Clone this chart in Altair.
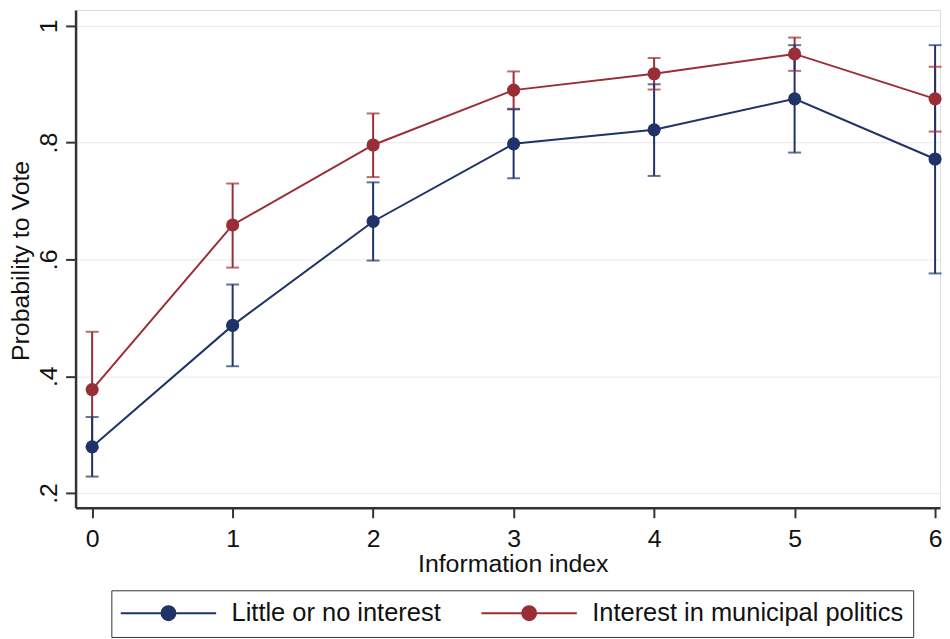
import altair as alt
import pandas as pd

info_index = [0, 1, 2, 3, 4, 5, 6]
series_names = ["Little or no interest", "Interest in municipal politics"]

little_mean = [0.279, 0.487, 0.665, 0.798, 0.822, 0.875, 0.772]
little_lo = [0.228, 0.417, 0.598, 0.739, 0.743, 0.783, 0.576]
little_hi = [0.330, 0.557, 0.732, 0.857, 0.900, 0.967, 0.967]

interest_mean = [0.377, 0.659, 0.796, 0.890, 0.918, 0.952, 0.875]
interest_lo = [0.278, 0.586, 0.741, 0.858, 0.891, 0.923, 0.819]
interest_hi = [0.476, 0.730, 0.850, 0.922, 0.945, 0.980, 0.930]

y_ticks = [0.2, 0.4, 0.6, 0.8, 1.0]
x_ticks = [0, 1, 2, 3, 4, 5, 6]

colors = ["#1f3368", "#9a2e36"]

rows = []
for i, x in enumerate(info_index):
    rows.append({"x": x, "series": series_names[1], "mean": interest_mean[i],
                 "lo": interest_lo[i], "hi": interest_hi[i], "ord": 0})
for i, x in enumerate(info_index):
    rows.append({"x": x, "series": series_names[0], "mean": little_mean[i],
                 "lo": little_lo[i], "hi": little_hi[i], "ord": 1})
df = pd.DataFrame(rows)

legend_path = ("M-6,0L6,0M0.875,0A0.875,0.875,0,1,1,-0.875,0"
               "A0.875,0.875,0,1,1,0.875,0Z")

color = alt.Color(
    "series:N",
    scale=alt.Scale(domain=series_names, range=colors),
    legend=alt.Legend(
        orient="none", legendX=36, legendY=584, direction="horizontal",
        title=None, symbolType=legend_path, symbolSize=256,
        symbolStrokeWidth=2, symbolOffset=34.7, labelOffset=50.7,
        labelFontSize=25.6, labelFont="Liberation Sans", labelColor="#111111",
        labelLimit=500, columnPadding=36, padding=10,
        strokeColor="#333333", fillColor="white", symbolOpacity=1,
    ),
)

xaxis = alt.Axis(values=x_ticks, grid=False, labelBaseline="alphabetic",
                 labelPadding=29, labelFlush=False, labelOverlap=False,
                 titleBaseline="alphabetic", titleAlign="center",
                 titleX=440, titleY=64)
yaxis = alt.Axis(values=y_ticks, grid=True, labelAngle=270, labelAlign="center",
                 labelBaseline="alphabetic", labelPadding=9, labelOverlap=False,
                 labelExpr="replace(format(datum.value, '.1~f'), '0.', '.')",
                 titleAngle=270, titleBaseline="alphabetic", titleAlign="center",
                 titleX=-47, titleY=252)

xenc = alt.X("x:Q", title="Information index", axis=xaxis,
             scale=alt.Scale(domain=[-0.118, 6.035], nice=False, zero=False))
ytitle = "Probability to Vote"
yscale = alt.Scale(domain=[0.1745, 1.0272], nice=False, zero=False)

base = alt.Chart(df).encode(x=xenc, color=color)

bars = base.mark_rule(strokeWidth=2).encode(
    y=alt.Y("lo:Q", title=ytitle, scale=yscale, axis=yaxis), y2="hi:Q")
cap_lo = base.mark_tick(orient="horizontal", size=13, thickness=2).encode(
    y=alt.Y("lo:Q", title=ytitle, scale=yscale, axis=yaxis))
cap_hi = base.mark_tick(orient="horizontal", size=13, thickness=2).encode(
    y=alt.Y("hi:Q", title=ytitle, scale=yscale, axis=yaxis))
lines = base.mark_line(strokeWidth=2).encode(
    y=alt.Y("mean:Q", title=ytitle, scale=yscale, axis=yaxis), order="x:Q")
points = base.mark_point(filled=True, size=175, opacity=1, strokeWidth=1,
                         shape="circle").encode(
    y=alt.Y("mean:Q", title=ytitle, scale=yscale, axis=yaxis),
    order="ord:Q")

chart = alt.layer(bars, cap_lo, cap_hi, lines, points).properties(
    width=870, height=501,
    autosize=alt.AutoSizeParams(type="none"),
    padding={"left": 68, "top": 0, "right": 2, "bottom": 130},
).configure_view(stroke=None).configure(
    background="white", font="Liberation Sans"
).configure_axis(
    domainColor="#333333", domainWidth=2.5, tickColor="#333333", tickWidth=2,
    tickSize=10, labelFont="Liberation Sans", labelFontSize=25,
    labelColor="#111111", titleFont="Liberation Sans", titleFontSize=25,
    titleFontWeight="normal", titleColor="#111111",
    gridColor="#e8e8e8", gridWidth=1,
)

chart.save("out.html", embed_options={"renderer": "svg", "actions": False})
